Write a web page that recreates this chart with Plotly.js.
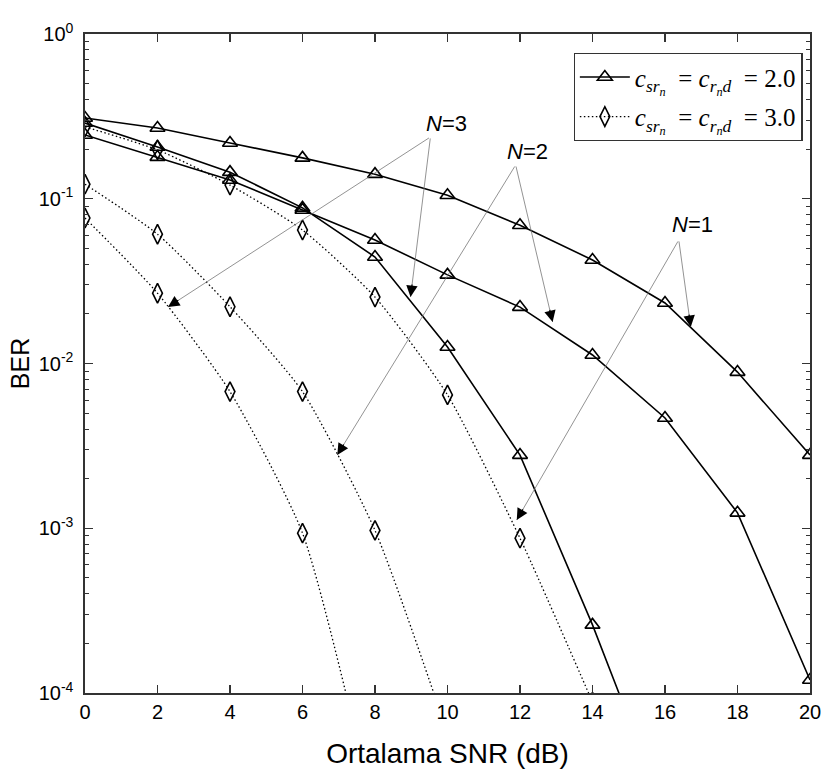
<!DOCTYPE html>
<html>
<head>
<meta charset="utf-8">
<script src="https://cdn.plot.ly/plotly-3.0.1.min.js"></script>
<style>html,body{margin:0;padding:0;background:#fff;}#chart{width:830px;height:772px;}</style>
</head>
<body>
<div id="chart"></div>
<script>
// ---- data ----
const snr = [0, 2, 4, 6, 8, 10, 12, 14, 16, 18, 20];

// c_srn = c_rnd = 2.0 (solid, triangles)
const berC2N1 = [0.309, 0.269, 0.218, 0.177, 0.141, 0.105, 0.069, 0.0425, 0.0233, 0.00887, 0.00278];
const berC2N2 = [0.244, 0.179, 0.130, 0.0855, 0.0562, 0.0345, 0.0220, 0.01126, 0.00467, 0.00124, 0.000120];
const snrC2N3 = [0, 2, 4, 6, 8, 10, 12, 14, 16];
const berC2N3 = [0.288, 0.206, 0.145, 0.088, 0.0443, 0.0126, 0.00278, 0.000259, 0.000019];

// c_srn = c_rnd = 3.0 (dotted, diamonds)
const snrC3N1 = [0, 2, 4, 6, 8, 10, 12, 14];
const berC3N1 = [0.273, 0.198, 0.121, 0.0646, 0.0253, 0.00645, 0.00087, 0.000088];
const snrC3N2 = [0, 2, 4, 6, 8, 10];
const berC3N2 = [0.1226, 0.0609, 0.0221, 0.00675, 0.00097, 0.000057];
const snrC3N3 = [0, 2, 4, 6, 8];
const berC3N3 = [0.0764, 0.0267, 0.00675, 0.000934, 0.000018];

const yTickVals = [1, 0.1, 0.01, 0.001, 0.0001];
const yTickText = ['10<sup>0</sup>', '10<sup>-1</sup>', '10<sup>-2</sup>', '10<sup>-3</sup>', '10<sup>-4</sup>'];
const xTickVals = [0, 2, 4, 6, 8, 10, 12, 14, 16, 18, 20];

const legC2 = '<i>c</i><sub><i>sr<sub>n</sub></i></sub>  = <i>c</i><sub><i>r<sub>n</sub>d</i></sub>  = 2.0';
const legC3 = '<i>c</i><sub><i>sr<sub>n</sub></i></sub>  = <i>c</i><sub><i>r<sub>n</sub>d</i></sub>  = 3.0';

// ---- styles ----
const solidLine = {color: '#000', width: 1.6, dash: 'solid'};
const dotLine = {color: '#000', width: 1.3, dash: '1.5px,2.5px', shape: 'spline', smoothing: 0.6};
const triMarker = {symbol: 'triangle-up-open', size: 13, color: '#000', line: {color: '#000', width: 1.6}};
const diaMarker = {symbol: 'diamond-tall-open', size: 14, color: '#000', line: {color: '#000', width: 1.6}};

function tr(x, y, line, marker, name, show) {
  return {x: x, y: y, mode: 'lines+markers', type: 'scatter', line: line, marker: marker,
          name: name, legendgroup: name, showlegend: show, cliponaxis: true};
}

const traces = [
  tr(snr, berC2N1, solidLine, triMarker, legC2, true),
  tr(snr, berC2N2, solidLine, triMarker, legC2, false),
  tr(snrC2N3, berC2N3, solidLine, triMarker, legC2, false),
  tr(snrC3N1, berC3N1, dotLine, diaMarker, legC3, true),
  tr(snrC3N2, berC3N2, dotLine, diaMarker, legC3, false),
  tr(snrC3N3, berC3N3, dotLine, diaMarker, legC3, false)
];

// ---- annotations (labels + arrows) ----
const W = 830, H = 772, mL = 85, mR = 20, mT = 34, mB = 79;
const pxPerX = (W - mL - mR) / 20;
const pxPerDec = (H - mT - mB) / 4;

const labels = [
  {text: '<i>N</i>=3', x: 9.97, y: -0.546},
  {text: '<i>N</i>=2', x: 12.21, y: -0.716},
  {text: '<i>N</i>=1', x: 16.77, y: -1.159}
];
const arrows = [
  {tx: 9.53, ty: -0.625, hx: 2.29, hy: -1.657},
  {tx: 9.53, ty: -0.625, hx: 8.98, hy: -1.596},
  {tx: 11.88, ty: -0.795, hx: 12.90, hy: -1.748},
  {tx: 11.88, ty: -0.795, hx: 6.96, hy: -2.555},
  {tx: 16.38, ty: -1.250, hx: 16.71, hy: -1.778},
  {tx: 16.38, ty: -1.250, hx: 11.91, hy: -2.950}
];

const annotations = [];
labels.forEach(l => annotations.push({
  x: l.x, y: l.y, xref: 'x', yref: 'y', text: l.text, showarrow: false,
  font: {family: 'Liberation Sans, Arial, sans-serif', size: 22, color: '#000'}
}));
arrows.forEach(a => {
  annotations.push({
    x: a.hx, y: a.hy, xref: 'x', yref: 'y', axref: 'x', ayref: 'y', ax: a.tx, ay: a.ty,
    text: '', showarrow: true, arrowhead: 0, arrowwidth: 0.8, arrowcolor: '#777'
  });
  const dx = (a.tx - a.hx) * pxPerX, dy = -(a.ty - a.hy) * pxPerDec;
  const len = Math.hypot(dx, dy);
  annotations.push({
    x: a.hx, y: a.hy, xref: 'x', yref: 'y', ax: dx / len * 14, ay: dy / len * 14,
    text: '', showarrow: true, arrowhead: 2, arrowsize: 1.9, arrowwidth: 1.2, arrowcolor: '#000'
  });
});

const axisCommon = {
  showline: true, linecolor: '#333', linewidth: 1.6, mirror: 'ticks',
  ticks: 'inside', tickcolor: '#333', tickwidth: 1.3, showgrid: false, zeroline: false,
  tickfont: {family: 'Liberation Sans, Arial, sans-serif', size: 20, color: '#000'}
};

const layout = {
  width: W, height: H,
  margin: {l: mL, r: mR, t: mT, b: mB, pad: 0},
  paper_bgcolor: '#fff', plot_bgcolor: 'rgba(0,0,0,0)',
  showlegend: true,
  legend: {
    x: 0.674, y: 0.971, xanchor: 'left', yanchor: 'top',
    bgcolor: '#fff', bordercolor: '#333', borderwidth: 1.2,
    font: {family: 'Liberation Serif, Times New Roman, serif', size: 25, color: '#000'},
    itemwidth: 50, tracegroupgap: 4
  },
  xaxis: Object.assign({}, axisCommon, {
    range: [0, 20], tickmode: 'array', tickvals: xTickVals, ticklen: 8,
    title: {text: 'Ortalama SNR (dB)', font: {family: 'Liberation Sans, Arial, sans-serif', size: 28, color: '#000'}, standoff: 22}
  }),
  yaxis: Object.assign({}, axisCommon, {
    type: 'log', range: [-4, 0], tickmode: 'array', tickvals: yTickVals, ticktext: yTickText, ticklen: 8,
    ticklabelstandoff: 6,
    minor: {ticks: 'inside', ticklen: 4, tickcolor: '#333', tickwidth: 1, dtick: 'D1'},
    title: {text: 'BER', font: {family: 'Liberation Sans, Arial, sans-serif', size: 25, color: '#000'}, standoff: 2}
  }),
  annotations: annotations
};

Plotly.newPlot('chart', traces, layout, {staticPlot: true, displayModeBar: false});
</script>
</body>
</html>
